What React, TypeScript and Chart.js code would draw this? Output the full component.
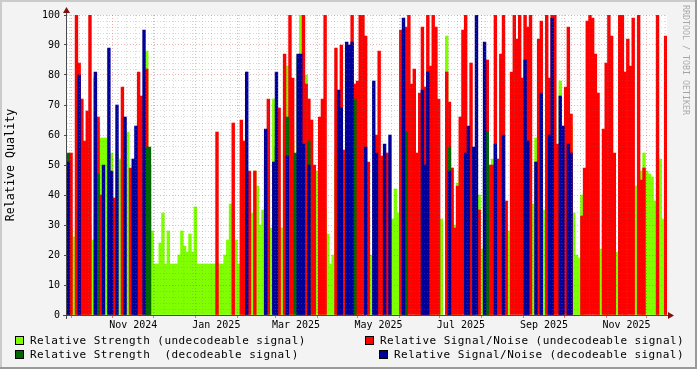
import React, { useEffect, useRef } from 'react';
import { Chart, registerables } from 'chart.js';

Chart.register(...registerables);

const _ = null;

// Time axis: day 0 = 2024-09-28, data in 2-day bins
const START_DATE = '2024-09-28';
const END_DAY = 444;
const BIN_DAYS = 2;
const FIRST_MONDAY = '2024-09-30';
const MONTH_STARTS = [
  '2024-10-01', '2024-11-01', '2024-12-01', '2025-01-01', '2025-02-01', '2025-03-01', '2025-04-01',
  '2025-05-01', '2025-06-01', '2025-07-01', '2025-08-01', '2025-09-01', '2025-10-01', '2025-11-01', '2025-12-01',
];
const LABEL_MONTHS = ['2024-11-01', '2025-01-01', '2025-03-01', '2025-05-01', '2025-07-01', '2025-09-01', '2025-11-01'];
const LABEL_TEXTS = ['Nov 2024', 'Jan 2025', 'Mar 2025', 'May 2025', 'Jul 2025', 'Sep 2025', 'Nov 2025'];
const Y_GRID = Array.from({ length: 51 }, (_v, i) => i * 2);

// Relative Strength (undecodeable signal)
const STRENGTH_UNDEC = [
  _, 29, 26, 28, _, 30, 32, 30, 30, 25,
  33, 64, 59, 59, 59, 54, 54, _, 54, 52,
  47, 47, 61, 42, 30, 30, 25, 30, 30, 88,
  34, 28, 17, 17, 24, 34, 17, 28, 17, 17,
  17, 20, 28, 23, 21, 27, 21, 36, 17, 17,
  17, 17, 17, 17, 17, 17, 17, 17, 20, 25,
  37, 34, 25, 17, 17, 42, 26, 37, 34, 48,
  43, 30, 35, 28, 39, 29, 72, 30, 29, 29,
  64, 83, 30, 58, 34, 86, 100, 28, 80, _,
  33, 33, 48, 41, 55, 35, 27, 17, 20, 53,
  _, _, 35, 30, _, _, _, 30, 28, _,
  _, 33, 20, 17, _, _, 22, 20, 17, 19,
  32, 42, 34, 24, _, 68, _, _, _, 34,
  34, _, _, _, 56, 47, _, 30, 32, _,
  93, _, 40, 30, 44, 48, _, _, _, 34,
  35, _, 40, 22, _, _, 33, 52, _, 31,
  _, 92, 29, 28, _, _, _, _, _, _,
  _, _, 37, 59, 28, 31, 35, 30, _, _,
  43, _, 78, 30, 32, _, 63, 34, 20, 19,
  40, 24, _, _, _, _, 19, 22, 38, 24,
  22, _, 22, 21, 29, _, 32, _, _, 41,
  43, _, 48, 54, 48, 47, 46, 38, 36, 52,
  32, 56,
];

// Relative Signal/Noise (undecodeable signal)
const SNR_UNDEC = [
  _, 54, _, 100, 84, 72, 58, 68, 100, _,
  79, 66, 40, _, _, _, _, 39, _, _,
  76, _, _, 49, _, _, 81, 73, _, 82,
  50, _, _, _, _, _, _, _, _, _,
  _, _, _, _, _, _, _, _, _, _,
  _, _, _, _, _, 61, _, _, _, _,
  _, 64, _, _, 65, 58, _, 48, _, 48,
  _, _, _, _, 72, _, _, _, 69, _,
  87, _, 100, 79, _, _, _, 100, 77, 72,
  65, 50, _, 66, 72, 100, _, _, _, 89,
  74, 90, 55, _, 77, 100, 77, 78, 100, 100,
  93, 51, _, _, 60, 88, 53, _, 54, _,
  _, _, _, 95, _, 96, 100, 77, 82, 54,
  74, 96, 76, 100, 83, 100, 96, 72, _, _,
  81, 71, 49, 29, 43, 66, 95, 100, _, 84,
  _, _, 35, _, _, 85, 50, 50, 100, 52,
  87, 100, 38, _, 81, 100, 92, 100, 79, 100,
  96, 100, _, _, 92, 98, _, 100, 79, 100,
  100, 57, 49, _, 76, 96, 67, _, _, _,
  33, 49, 98, 100, 99, 87, 74, _, 62, 84,
  100, 93, 54, _, 100, 100, 81, 92, 83, 99,
  _, 100, 45, 49, _, _, _, _, 100, _,
  _, 93,
];

// Relative Strength (decodeable signal)
const STRENGTH_DEC = [
  54, _, _, _, _, _, _, _, _, _,
  _, 47, _, _, _, _, _, _, _, _,
  _, _, _, _, _, 40, _, _, _, 56,
  56, _, _, _, _, _, _, _, _, _,
  _, _, _, _, _, _, _, _, _, _,
  _, _, _, _, _, _, _, _, _, _,
  _, _, _, _, _, _, _, _, _, _,
  _, _, _, 50, _, _, _, 56, _, _,
  _, 66, _, _, 54, 54, 54, _, _, 58,
  _, _, _, _, _, _, _, _, _, _,
  _, _, _, _, _, _, 72, _, _, _,
  _, _, _, _, _, _, _, _, _, _,
  _, _, _, _, 77, 61, _, _, _, _,
  _, _, _, _, _, _, _, _, _, _,
  _, 56, _, _, _, _, _, _, 44, _,
  _, _, _, _, 49, 61, _, _, _, _,
  _, _, _, _, _, _, _, _, _, _,
  _, _, _, _, _, _, _, _, _, _,
  _, _, _, _, _, _, _, _, _, _,
  _, _, _, _, _, _, _, _, _, _,
  _, _, _, _, _, _, _, _, _, _,
  _, _, _, _, _, _, _, _, _, _,
  _, _,
];

// Relative Signal/Noise (decodeable signal)
const SNR_DEC = [
  51, _, _, _, 80, _, _, _, _, _,
  81, _, _, 50, _, 89, 48, _, 70, _,
  _, 66, _, _, 52, 63, _, _, 95, _,
  _, _, _, _, _, _, _, _, _, _,
  _, _, _, _, _, _, _, _, _, _,
  _, _, _, _, _, _, _, _, _, _,
  _, _, _, _, _, _, 81, _, _, _,
  _, _, _, 62, _, _, 51, 81, _, _,
  _, 53, _, _, _, 87, 87, 57, _, 50,
  _, _, _, _, _, _, _, _, _, _,
  75, 69, _, 91, 90, 91, _, _, _, _,
  56, _, _, 78, 54, _, _, 57, _, 60,
  _, _, _, _, 99, _, _, _, _, _,
  _, 75, 50, 81, _, _, _, _, _, _,
  _, 48, _, _, _, _, _, 54, 63, _,
  56, 100, _, _, 91, _, _, _, 57, _,
  _, 60, _, _, _, _, _, _, _, 85,
  58, _, _, 51, _, 74, _, _, 60, 99,
  _, _, 73, 63, _, 57, 54, _, _, _,
  _, _, _, _, _, _, _, _, _, _,
  _, _, _, _, _, _, _, _, _, _,
  _, _, _, _, _, _, _, _, _, _,
  _, _,
];

const SERIES = [
  { label: 'Relative Strength (undecodeable signal)', data: STRENGTH_UNDEC, color: '#80FF00', order: 4 },
  { label: 'Relative Signal/Noise (undecodeable signal)', data: SNR_UNDEC, color: '#FF0000', order: 3 },
  { label: 'Relative Strength  (decodeable signal)', data: STRENGTH_DEC, color: '#006600', order: 2 },
  { label: 'Relative Signal/Noise (decodeable signal)', data: SNR_DEC, color: '#000099', order: 1 },
];

const FONT = '"DejaVu Sans Mono", monospace';
const BG = '#F3F3F3';
const MAJOR = 'rgba(210,40,40,0.35)';
const MINOR = 'rgba(120,120,120,0.28)';
const NONE = 'rgba(0,0,0,0)';
const AXIS = '#4a4a4a';
const ARROW = '#7F1010';

const DAY_MS = 86400000;
const parseUTC = (s: string) => Date.UTC(+s.slice(0, 4), +s.slice(5, 7) - 1, +s.slice(8, 10));
const START_MS = parseUTC(START_DATE);
const dayOf = (s: string) => Math.round((parseUTC(s) - START_MS) / DAY_MS);

type TickInfo = { kind: 'major' | 'minor' | 'label'; text?: string };
const xTickInfo = new Map<number, TickInfo>();
for (let d = dayOf(FIRST_MONDAY); d <= END_DAY; d += 7) xTickInfo.set(d, { kind: 'minor' });
MONTH_STARTS.forEach((s) => xTickInfo.set(dayOf(s), { kind: 'major' }));
LABEL_MONTHS.forEach((s, i) => {
  const y = +s.slice(0, 4);
  const m = +s.slice(5, 7) - 1;
  const next = Math.round((Date.UTC(y, m + 1, 1) - START_MS) / DAY_MS);
  let mid = (dayOf(s) + next) / 2;
  while (xTickInfo.has(mid)) mid += 0.01;
  xTickInfo.set(mid, { kind: 'label', text: LABEL_TEXTS[i] });
});
const X_TICKS = [...xTickInfo.keys()].sort((a, b) => a - b);

const framePlugin = {
  id: 'rrdFrame',
  beforeDraw(chart: any) {
    const { ctx, chartArea: a, width, height } = chart;
    ctx.save();
    ctx.fillStyle = BG;
    ctx.fillRect(0, 0, width, height);
    ctx.fillStyle = '#FFFFFF';
    ctx.fillRect(a.left, a.top, a.right - a.left, a.bottom - a.top);
    ctx.fillStyle = '#CBCBCB';
    ctx.fillRect(0, 0, width, 2);
    ctx.fillRect(0, 0, 2, height);
    ctx.fillStyle = '#999999';
    ctx.fillRect(0, height - 2, width, 2);
    ctx.fillRect(width - 2, 0, 2, height);
    ctx.restore();
  },
  afterDraw(chart: any) {
    const { ctx, chartArea: a } = chart;
    ctx.save();
    ctx.strokeStyle = AXIS;
    ctx.lineWidth = 1;
    ctx.beginPath();
    ctx.moveTo(a.left - 4, a.bottom + 0.5);
    ctx.lineTo(a.right + 3, a.bottom + 0.5);
    ctx.moveTo(a.left - 0.5, a.bottom + 4);
    ctx.lineTo(a.left - 0.5, a.top - 4);
    ctx.stroke();
    ctx.fillStyle = ARROW;
    ctx.beginPath();
    ctx.moveTo(a.right + 1, a.bottom - 3);
    ctx.lineTo(a.right + 7, a.bottom + 0.5);
    ctx.lineTo(a.right + 1, a.bottom + 4);
    ctx.closePath();
    ctx.fill();
    ctx.beginPath();
    ctx.moveTo(a.left - 4, a.top - 2);
    ctx.lineTo(a.left - 0.5, a.top - 8);
    ctx.lineTo(a.left + 3, a.top - 2);
    ctx.closePath();
    ctx.fill();
    ctx.restore();
  },
};

const LEGEND = [
  { text: SERIES[0].label, color: SERIES[0].color, box: 15, textX: 30, row: 0 },
  { text: SERIES[1].label, color: SERIES[1].color, box: 365, textX: 380, row: 0 },
  { text: SERIES[2].label, color: SERIES[2].color, box: 15, textX: 30, row: 1 },
  { text: SERIES[3].label, color: SERIES[3].color, box: 379, textX: 394, row: 1 },
];

export default function App() {
  const ref = useRef<HTMLCanvasElement>(null);

  useEffect(() => {
    document.body.style.margin = '0';
    const canvas = ref.current;
    if (!canvas) return;
    const datasets = SERIES.map((s) => ({
      label: s.label,
      data: s.data
        .map((v, i) => ({ x: i * BIN_DAYS + BIN_DAYS / 2, y: v }))
        .filter((p) => p.y !== null),
      backgroundColor: s.color,
      borderWidth: 0,
      order: s.order,
      barThickness: 2.75,
      barPercentage: 1,
      categoryPercentage: 1,
    }));
    const chart = new Chart(canvas, {
      type: 'bar',
      data: { datasets: datasets as any },
      plugins: [framePlugin],
      options: {
        animation: false,
        responsive: false,
        devicePixelRatio: 1,
        layout: { padding: { left: 0, right: 30, top: 15, bottom: 0 } },
        plugins: { legend: { display: false }, tooltip: { enabled: false } },
        scales: {
          x: {
            type: 'linear',
            min: 0,
            max: END_DAY,
            stacked: true,
            offset: false,
            afterBuildTicks: (axis: any) => {
              axis.ticks = X_TICKS.map((value) => ({ value }));
            },
            afterFit: (axis: any) => {
              axis.height = 54;
            },
            ticks: {
              autoSkip: false,
              maxRotation: 0,
              minRotation: 0,
              padding: 1,
              color: '#000',
              font: { family: FONT, size: 10 },
              callback: (v: any) => xTickInfo.get(v)?.text ?? '',
            },
            grid: {
              offset: false,
              z: 1,
              lineWidth: 1,
              tickLength: 3,
              color: (c: any) => {
                const k = xTickInfo.get(c.tick?.value)?.kind;
                return k === 'major' ? MAJOR : k === 'minor' ? MINOR : NONE;
              },
              tickColor: (c: any) => (xTickInfo.get(c.tick?.value)?.kind === 'major' ? 'rgba(255,0,0,0.55)' : NONE),
            },
            border: { display: false, dash: [1, 2] },
          },
          y: {
            type: 'linear',
            min: 0,
            max: 100,
            stacked: false,
            afterBuildTicks: (axis: any) => {
              axis.ticks = Y_GRID.map((value) => ({ value }));
            },
            afterFit: (axis: any) => {
              axis.width = 67;
            },
            ticks: {
              autoSkip: false,
              padding: 4,
              color: '#000',
              font: { family: FONT, size: 10 },
              callback: (v: any) => (v % 10 === 0 ? String(v) : ''),
            },
            grid: {
              z: 1,
              lineWidth: 1,
              tickLength: 3,
              color: (c: any) => (c.tick && c.tick.value % 10 === 0 ? (c.tick.value === 0 ? NONE : MAJOR) : MINOR),
              tickColor: (c: any) => (c.tick && c.tick.value % 10 === 0 ? AXIS : NONE),
            },
            border: { display: false, dash: [1, 2] },
            title: {
              display: true,
              text: 'Relative Quality',
              color: '#000',
              font: { family: FONT, size: 11.7 },
              padding: { top: 4, bottom: 0 },
            },
          },
        },
      } as any,
    });
    return () => chart.destroy();
  }, []);

  return (
    <div style={{ position: 'fixed', left: 0, top: 0, width: 697, height: 369, background: BG, overflow: 'hidden' }}>
      <canvas ref={ref} width={697} height={369} style={{ position: 'absolute', left: 0, top: 0, width: 697, height: 369 }} />
      {LEGEND.map((l, i) => (
        <React.Fragment key={i}>
          <div
            style={{
              position: 'absolute',
              left: l.box,
              top: 336 + l.row * 14,
              width: 9,
              height: 9,
              boxSizing: 'border-box',
              border: '1px solid #000',
              background: l.color,
            }}
          />
          <div
            style={{
              position: 'absolute',
              left: l.textX,
              top: 334 + l.row * 14,
              fontFamily: FONT,
              fontSize: 11,
              letterSpacing: '0.45px',
              lineHeight: '14px',
              color: '#000',
              whiteSpace: 'pre',
            }}
          >
            {l.text}
          </div>
        </React.Fragment>
      ))}
      <div
        style={{
          position: 'absolute',
          left: 681,
          top: 5,
          width: 10,
          writingMode: 'vertical-rl',
          fontFamily: FONT,
          fontSize: 8.3,
          lineHeight: '10px',
          color: 'rgba(0,0,0,0.32)',
          whiteSpace: 'pre',
        }}
      >
        RRDTOOL / TOBI OETIKER
      </div>
    </div>
  );
}
